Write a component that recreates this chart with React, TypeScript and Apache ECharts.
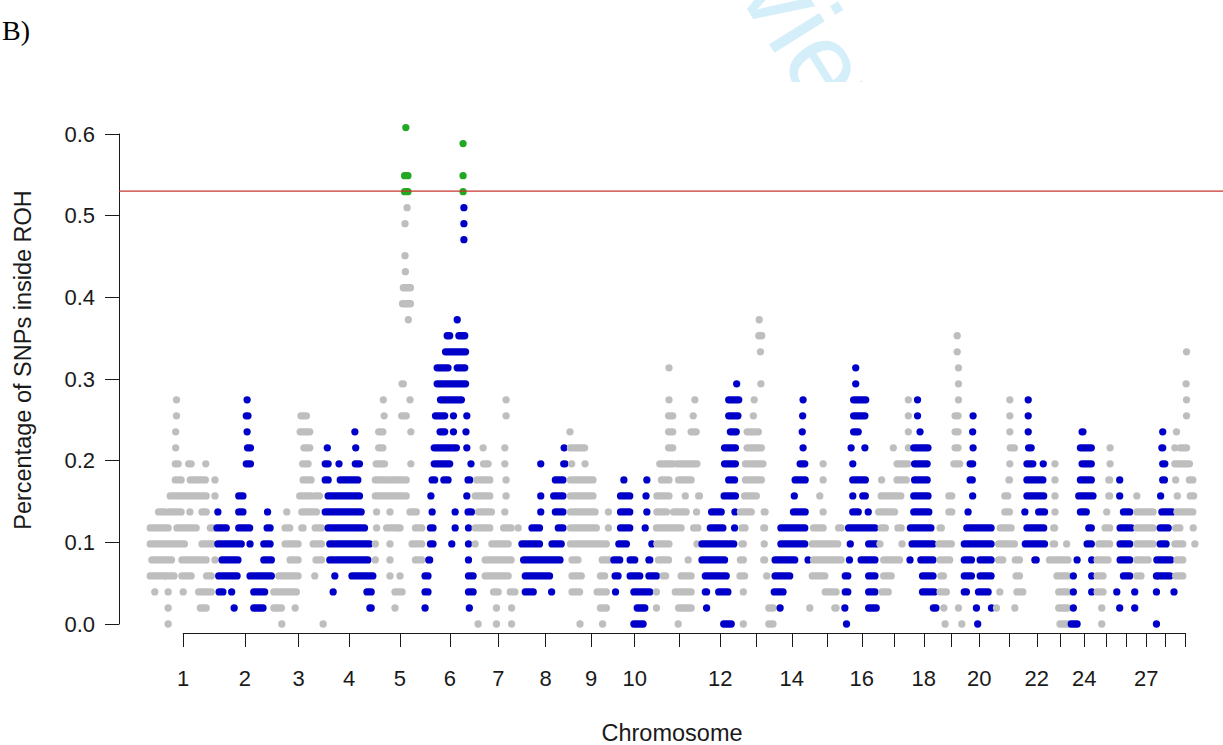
import React, { useEffect, useRef } from "react";
import * as echarts from "echarts";

// One run of adjacent SNPs sharing the same ROH count:
// [animals with the SNP inside a ROH, first SNP (Mb), last SNP (Mb)]
type Run = [number, number, number];

const SAMPLE_SIZE = 51;
const THRESHOLD = 0.53;
const HIGHLIGHT_MIN = 27; // counts at or above this are shown in green

const CHR_LENGTHS_MB = [
  158, 137, 121, 121, 121, 119, 113, 113, 105, 104, 107, 91, 84, 84, 85, 81, 75, 66, 64, 72,
  71, 61, 52, 62, 43, 52, 45, 46, 51,
];
const LABELLED_CHR = [1, 2, 3, 4, 5, 6, 7, 8, 9, 10, 12, 14, 16, 18, 20, 22, 24, 27];

const chr1: Run[] = [
  [14, 63, 63], [13, 63, 63], [12, 61, 61], [11, 61, 61],
  [10, 60, 67], [10, 92, 98], [10, 133, 133],
  [9, 60, 74], [9, 96, 132], [9, 155, 155],
  [8, 48, 134], [8, 155, 155],
  [7, 20, 35], [7, 44, 74], [7, 95, 95], [7, 124, 134],
  [6, 0, 43], [6, 64, 110], [6, 144, 150],
  [5, 0, 82], [5, 124, 150],
  [4, 4, 51], [4, 76, 134], [4, 155, 155],
  [3, 0, 35], [3, 38, 57], [3, 76, 98], [3, 135, 146],
  [2, 11, 11], [2, 43, 43], [2, 79, 79], [2, 116, 146],
  [1, 43, 43], [1, 120, 134],
  [0, 43, 43],
];
const chr2: Run[] = [
  [14, 74, 74], [13, 72, 76], [12, 74, 74], [11, 75, 82], [10, 72, 82],
  [8, 54, 64],
  [7, 4, 4], [7, 54, 64], [7, 123, 123],
  [6, 2, 24], [6, 54, 80], [6, 122, 129],
  [5, 4, 60], [5, 81, 81], [5, 114, 129],
  [4, 14, 52], [4, 114, 132],
  [3, 6, 50], [3, 81, 132],
  [2, 7, 16], [2, 37, 37], [2, 90, 116],
  [1, 43, 43], [1, 90, 112],
];
const chr3: Run[] = [
  [13, 66, 79], [12, 64, 87], [11, 73, 87], [10, 70, 83], [9, 71, 90],
  [8, 63, 90], [8, 100, 110],
  [7, 32, 32], [7, 68, 103],
  [6, 28, 39], [6, 68, 71], [6, 100, 115],
  [5, 28, 59], [5, 95, 115],
  [4, 40, 59], [4, 102, 115],
  [3, 13, 59], [3, 99, 99],
  [2, 1, 55],
  [1, 1, 19], [1, 52, 52],
  [0, 20, 20], [0, 119, 119],
];
const chr4: Run[] = [
  [12, 74, 74],
  [11, 8, 8], [11, 76, 76],
  [10, 3, 10], [10, 36, 36], [10, 75, 85],
  [9, 3, 10], [9, 39, 81],
  [8, 10, 85],
  [7, 3, 89],
  [6, 10, 97],
  [5, 14, 109],
  [4, 14, 105],
  [3, 26, 26], [3, 67, 117],
  [2, 22, 22], [2, 103, 113],
  [1, 110, 113],
];
const chr5: Run[] = [
  [31, 75, 75], [28, 72, 80], [27, 72, 80], [26, 78, 78], [25, 73, 73],
  [23, 73, 73], [22, 74, 74], [21, 69, 86], [20, 67, 86], [19, 81, 81],
  [15, 66, 69],
  [14, 21, 21], [14, 85, 85],
  [13, 23, 23], [13, 65, 76],
  [12, 10, 20], [12, 87, 87],
  [11, 10, 20],
  [10, 4, 24], [10, 87, 87],
  [9, 2, 30], [9, 38, 76],
  [8, 2, 76],
  [7, 5, 5], [7, 37, 37], [7, 85, 100],
  [6, 5, 5], [6, 29, 55], [6, 61, 61], [6, 98, 113],
  [5, 2, 2], [5, 37, 37], [5, 90, 113],
  [4, 2, 2], [4, 37, 37], [4, 98, 113],
  [3, 37, 37], [3, 61, 61],
  [2, 49, 66],
  [1, 49, 49],
];
const chr6: Run[] = [
  [30, 91, 91], [28, 91, 91], [27, 91, 91], [26, 93, 93], [25, 93, 93], [24, 93, 93],
  [19, 77, 77],
  [18, 53, 59], [18, 81, 95],
  [17, 49, 97],
  [16, 29, 55], [16, 77, 95],
  [15, 29, 97],
  [14, 37, 87],
  [13, 25, 47], [13, 68, 68], [13, 100, 100],
  [12, 36, 47], [12, 68, 68], [12, 98, 98],
  [11, 22, 75], [11, 100, 100],
  [10, 22, 59], [10, 110, 110],
  [9, 17, 23], [9, 45, 55], [9, 103, 107],
  [8, 14, 14], [8, 100, 100],
  [7, 17, 17], [7, 72, 72], [7, 103, 111],
  [6, 13, 19], [6, 72, 72], [6, 104, 104],
  [5, 13, 19], [5, 64, 64], [5, 104, 104],
  [4, 9, 11], [4, 104, 104],
  [3, 0, 7], [3, 104, 115],
  [2, 0, 7], [2, 104, 115],
  [1, 0, 0], [1, 106, 106],
];
const chr7: Run[] = [
  [14, 75, 75], [13, 75, 75],
  [11, 20, 20], [11, 72, 72],
  [10, 21, 32], [10, 72, 72],
  [9, 5, 36], [9, 75, 75],
  [8, 1, 36], [8, 75, 75],
  [7, 9, 40], [7, 72, 72],
  [6, 1, 36], [6, 69, 87], [6, 104, 104],
  [5, 1, 1], [5, 41, 80],
  [4, 25, 87],
  [3, 25, 80],
  [2, 45, 56], [2, 85, 96],
  [1, 52, 52], [1, 88, 88],
  [0, 8, 8], [0, 52, 52], [0, 88, 88],
];
const chr8: Run[] = [
  [11, 101, 101],
  [10, 45, 45], [10, 100, 103],
  [9, 80, 98],
  [8, 45, 45], [8, 76, 98],
  [7, 45, 45], [7, 80, 98],
  [6, 24, 42], [6, 87, 98],
  [5, 0, 42], [5, 72, 94],
  [4, 4, 91],
  [3, 8, 66],
  [2, 8, 27], [2, 71, 71],
];
const chr9: Run[] = [
  [12, 2, 2],
  [11, 3, 37],
  [10, 6, 6], [10, 38, 38],
  [9, 3, 57],
  [8, 3, 57],
  [7, 3, 62], [7, 94, 94],
  [6, 3, 65], [6, 94, 94],
  [5, 3, 89],
  [4, 7, 21], [4, 79, 97],
  [3, 7, 29], [3, 75, 85],
  [2, 7, 25], [2, 67, 89],
  [1, 75, 89],
  [0, 26, 26], [0, 80, 80],
];
const chr10: Run[] = [
  [9, 26, 26], [9, 81, 81],
  [8, 18, 40], [8, 79, 79],
  [7, 18, 40], [7, 81, 81],
  [6, 18, 40], [6, 77, 77],
  [5, 14, 32], [5, 93, 93],
  [4, 2, 16], [4, 41, 52], [4, 86, 88],
  [3, 5, 12], [3, 41, 64], [3, 86, 104],
  [2, 6, 6], [2, 50, 88],
  [1, 58, 76],
  [0, 50, 72],
];
const chr11: Run[] = [
  [16, 30, 30],
  [14, 30, 30], [14, 92, 92],
  [13, 29, 39], [13, 88, 88],
  [12, 29, 39], [12, 83, 95],
  [11, 29, 39],
  [10, 8, 40], [10, 50, 97],
  [9, 12, 30], [9, 53, 83],
  [8, 1, 30], [8, 69, 69], [8, 101, 103],
  [7, 1, 24], [7, 41, 71], [7, 96, 96],
  [6, 0, 59], [6, 89, 99],
  [5, 1, 30], [5, 97, 97],
  [4, 5, 29], [4, 76, 76],
  [3, 16, 22], [3, 59, 83],
  [2, 0, 0], [2, 45, 83],
  [1, 0, 0], [1, 53, 83],
  [0, 52, 52],
];
const chr12: Run[] = [
  [15, 85, 85],
  [14, 66, 90], [13, 66, 88], [12, 70, 84], [11, 56, 82], [10, 56, 82], [9, 66, 80], [8, 55, 82],
  [7, 25, 48], [7, 81, 81],
  [6, 22, 52], [6, 80, 80],
  [5, 2, 78],
  [4, 2, 56],
  [3, 10, 60],
  [2, 10, 13], [2, 42, 64],
  [1, 13, 13],
  [0, 54, 72],
];
const chr13: Run[] = [
  [19, 48, 48], [18, 47, 54], [17, 51, 51], [15, 52, 52], [14, 36, 36], [13, 34, 34],
  [12, 19, 46], [11, 19, 53], [10, 15, 57], [9, 15, 53], [8, 13, 41],
  [7, 3, 29], [7, 60, 62],
  [6, 7, 14], [6, 59, 61],
  [5, 7, 10], [5, 60, 60],
  [4, 3, 10], [4, 59, 61],
  [3, 2, 13], [3, 66, 66],
  [2, 10, 10],
  [1, 71, 81],
  [0, 10, 10], [0, 71, 81],
];
const chr14: Run[] = [
  [14, 69, 69], [13, 68, 68], [12, 67, 67], [11, 69, 69],
  [10, 62, 73], [9, 50, 74], [8, 48, 48], [7, 46, 74],
  [6, 16, 73], [5, 16, 73],
  [4, 2, 49], [4, 81, 81],
  [3, 2, 37],
  [2, 0, 21],
  [1, 14, 14],
];
const chr15: Run[] = [
  [10, 33, 33], [9, 33, 33], [8, 25, 25], [7, 33, 33],
  [6, 10, 33], [6, 70, 76],
  [5, 7, 68],
  [4, 10, 76],
  [3, 7, 37],
  [2, 38, 64],
  [1, 1, 1], [1, 61, 64],
];
const chr16: Run[] = [
  [16, 26, 26], [15, 26, 26], [14, 21, 50], [13, 21, 48], [12, 21, 32],
  [11, 15, 15], [11, 48, 48],
  [10, 19, 19],
  [9, 19, 49],
  [8, 19, 19], [8, 43, 49],
  [7, 19, 32], [7, 56, 56],
  [6, 9, 72],
  [5, 13, 13], [5, 57, 75],
  [4, 11, 11], [4, 39, 72],
  [3, 1, 7], [3, 57, 72],
  [2, 1, 7], [2, 57, 72],
  [1, 0, 0], [1, 57, 75],
  [0, 4, 4],
];
const chr17: Run[] = [
  [14, 71, 71], [13, 71, 71], [12, 71, 71],
  [11, 35, 35], [11, 71, 71],
  [10, 44, 70],
  [9, 7, 7], [9, 44, 66],
  [8, 6, 53],
  [7, 0, 38],
  [6, 6, 16], [6, 46, 54],
  [5, 3, 3], [5, 56, 56],
  [4, 12, 50],
  [3, 12, 30],
  [2, 8, 23],
];
const chr18: Run[] = [
  [14, 18, 18], [13, 18, 18], [12, 24, 24],
  [11, 9, 43], [10, 11, 41], [9, 11, 41], [8, 9, 43], [7, 9, 45],
  [6, 1, 50], [5, 5, 55],
  [4, 0, 0], [4, 26, 55],
  [3, 30, 55], [2, 30, 58],
  [1, 56, 62],
];
const chr19: Run[] = [
  [18, 47, 47], [17, 47, 47], [16, 50, 50], [15, 50, 50], [14, 50, 50],
  [13, 42, 49], [12, 42, 49], [11, 42, 49], [10, 39, 53],
  [8, 27, 34], [7, 27, 34],
  [6, 6, 9],
  [5, 3, 33],
  [4, 6, 29],
  [3, 8, 14],
  [2, 6, 21],
  [1, 15, 15], [1, 50, 50],
  [0, 18, 18], [0, 58, 58],
];
const chr20: Run[] = [
  [13, 21, 21], [12, 20, 20], [11, 21, 21], [10, 14, 20], [9, 14, 19], [8, 20, 20], [7, 9, 9],
  [6, 6, 64], [5, 0, 64],
  [4, 0, 17], [4, 38, 64],
  [3, 0, 17], [3, 38, 64],
  [2, 0, 5], [2, 34, 57],
  [1, 29, 29], [1, 65, 65],
  [0, 32, 32],
];
const chr21: Run[] = [
  [14, 37, 37], [13, 37, 37], [12, 37, 37], [11, 38, 48], [10, 37, 37], [9, 35, 36],
  [8, 25, 32], [7, 25, 36], [6, 14, 40], [5, 10, 48],
  [4, 10, 20], [4, 50, 60],
  [3, 52, 60],
  [2, 13, 13], [2, 54, 68],
  [1, 5, 5], [1, 49, 49],
];
const chr22: Run[] = [
  [14, 10, 10], [13, 10, 10], [12, 10, 10], [11, 11, 17],
  [10, 7, 21], [10, 46, 46],
  [9, 7, 45], [8, 7, 47],
  [7, 2, 2], [7, 35, 49],
  [6, 7, 47], [5, 3, 49],
  [4, 26, 29],
];
const chr23: Run[] = [
  [10, 13, 13], [9, 13, 13], [8, 13, 13], [7, 13, 13],
  [6, 10, 12],
  [5, 9, 12], [5, 41, 41],
  [4, 0, 44],
  [3, 18, 44],
  [2, 22, 44],
  [1, 22, 44],
  [0, 25, 45],
];
const chr24: Run[] = [
  [12, 26, 28], [11, 22, 48], [10, 26, 48], [9, 22, 48], [8, 18, 52], [7, 22, 36],
  [6, 42, 48], [5, 38, 48],
  [4, 14, 14], [4, 49, 49],
  [3, 5, 5], [3, 49, 49],
  [2, 5, 5], [2, 49, 49],
  [1, 5, 5],
  [0, 0, 14],
];
const chr25: Run[] = [
  [11, 31, 31], [10, 31, 31], [9, 28, 30], [8, 28, 30], [7, 23, 23],
  [6, 19, 30], [5, 4, 30], [4, 0, 26], [3, 0, 14], [2, 0, 14],
  [1, 11, 11], [0, 11, 11],
];
const chr26: Run[] = [
  [9, 11, 11], [8, 11, 11],
  [7, 20, 35], [6, 12, 39], [5, 12, 35], [4, 12, 35], [3, 20, 35],
  [2, 4, 4], [2, 47, 47],
  [1, 11, 11], [1, 47, 47],
];
const chr27: Run[] = [
  [8, 0, 0], [7, 0, 39], [6, 0, 39], [5, 0, 39], [4, 0, 27], [3, 0, 10],
];
const chr28: Run[] = [
  [12, 17, 17], [11, 15, 17], [10, 17, 22], [9, 17, 21], [8, 12, 12],
  [7, 15, 40], [6, 11, 30], [5, 11, 25], [4, 3, 36],
  [3, 2, 2], [3, 7, 34],
  [2, 2, 2], [2, 44, 44],
  [0, 2, 2],
];
const chr29: Run[] = [
  [17, 28, 28], [15, 27, 27], [14, 28, 28], [13, 28, 28],
  [12, 4, 4],
  [11, 0, 0], [11, 13, 28],
  [10, 0, 35],
  [9, 2, 2], [9, 35, 43],
  [8, 6, 6], [8, 37, 45],
  [7, 5, 43],
  [6, 2, 12], [6, 44, 44],
  [5, 0, 19], [5, 48, 48],
  [4, 5, 19],
  [3, 2, 19],
];

const CHROMOSOMES: Run[][] = [
  chr1, chr2, chr3, chr4, chr5, chr6, chr7, chr8, chr9, chr10, chr11, chr12, chr13, chr14, chr15,
  chr16, chr17, chr18, chr19, chr20, chr21, chr22, chr23, chr24, chr25, chr26, chr27, chr28, chr29,
];

const GREY = "#bebebe";
const BLUE = "#0000c8";
const GREEN = "#22a822";
const RED = "#c8372f";
const INK = "#1a1a1a";
const FONT = "'Liberation Sans', Arial, sans-serif";

// Page and plot geometry
const WIDTH = 1223;
const HEIGHT = 745;
const PLOT_LEFT = 119;
const Y_TOP = 134; // pixel row of y = 0.6
const Y_ZERO = 624; // pixel row of y = 0
const X_AXIS_ROW = 633;
const X_MIN = -74.7;
const X_MAX = 2568.3;
const DOT_R = 3.65;

export default function App() {
  const ref = useRef<HTMLDivElement>(null);

  useEffect(() => {
    if (!ref.current) return;
    const chart = echarts.init(ref.current, null, { renderer: "svg" });

    const starts: number[] = [];
    let acc = 0;
    CHR_LENGTHS_MB.forEach((len) => {
      starts.push(acc);
      acc += len;
    });
    const centers = CHR_LENGTHS_MB.map((len, i) => starts[i] + len / 2);
    const labelCenters = LABELLED_CHR.map((c) => centers[c - 1]);

    const runs: any[] = [];
    CHROMOSOMES.forEach((list, i) => {
      list.forEach(([n, s, e]) => {
        const color = n >= HIGHLIGHT_MIN ? GREEN : i % 2 === 0 ? GREY : BLUE;
        runs.push({
          value: [starts[i] + s, starts[i] + e, n / SAMPLE_SIZE],
          itemStyle: { color },
        });
      });
    });

    const pxPerMb = (WIDTH - PLOT_LEFT) / (X_MAX - X_MIN);
    const axisLeft = PLOT_LEFT + (centers[0] - X_MIN) * pxPerMb;
    const axisRight = (X_MAX - centers[centers.length - 1]) * pxPerMb;

    const option: any = {
      animation: false,
      backgroundColor: "#ffffff",
      textStyle: { fontFamily: FONT },
      grid: [
        { left: PLOT_LEFT, right: 0, top: Y_TOP, bottom: HEIGHT - Y_ZERO },
        { left: axisLeft, right: axisRight, top: X_AXIS_ROW - 20, bottom: HEIGHT - X_AXIS_ROW },
      ],
      xAxis: [
        { type: "value", gridIndex: 0, min: X_MIN, max: X_MAX, show: false },
        {
          type: "value",
          gridIndex: 1,
          min: centers[0],
          max: centers[centers.length - 1],
          position: "bottom",
          axisLine: { show: true, onZero: false, lineStyle: { color: INK, width: 1 } },
          axisTick: { show: true, length: 14, customValues: centers, lineStyle: { color: INK, width: 1 } },
          axisLabel: {
            customValues: labelCenters,
            margin: 34,
            fontSize: 22,
            color: INK,
            fontFamily: FONT,
            formatter: (v: number) => {
              const i = centers.findIndex((c) => Math.abs(c - v) < 0.01);
              return i >= 0 ? String(i + 1) : "";
            },
          },
          splitLine: { show: false },
        },
      ],
      yAxis: [
        {
          type: "value",
          gridIndex: 0,
          min: 0,
          max: 0.6,
          interval: 0.1,
          axisLine: { show: true, onZero: false, lineStyle: { color: INK, width: 1 } },
          axisTick: { show: true, length: 14, lineStyle: { color: INK, width: 1 } },
          axisLabel: {
            margin: 24,
            fontSize: 22,
            color: INK,
            fontFamily: FONT,
            formatter: (v: number) => v.toFixed(1),
          },
          splitLine: { show: false },
        },
        { type: "value", gridIndex: 1, show: false, min: 0, max: 1 },
      ],
      series: [
        {
          type: "custom",
          xAxisIndex: 0,
          yAxisIndex: 0,
          clip: false,
          encode: { x: [0, 1], y: 2 },
          data: runs,
          renderItem: (_params: any, api: any) => {
            const p0 = api.coord([api.value(0), api.value(2)]);
            const p1 = api.coord([api.value(1), api.value(2)]);
            return {
              type: "rect",
              shape: {
                x: p0[0] - DOT_R,
                y: p0[1] - DOT_R,
                width: p1[0] - p0[0] + 2 * DOT_R,
                height: 2 * DOT_R,
                r: DOT_R,
              },
              style: { fill: api.visual("color") },
            };
          },
          z: 4,
        },
        {
          type: "line",
          xAxisIndex: 0,
          yAxisIndex: 0,
          symbol: "none",
          silent: true,
          data: [
            [X_MIN, THRESHOLD],
            [X_MAX, THRESHOLD],
          ],
          lineStyle: { color: RED, width: 1.2 },
          z: 5,
        },
      ],
      graphic: [
        {
          // page watermark, partly hidden behind the figure
          type: "text",
          x: 887,
          y: 160,
          rotation: (-58 * Math.PI) / 180,
          silent: true,
          z: 0,
          style: {
            text: "For Peer Review",
            fill: "#d4eefa",
            font: "112px 'Liberation Sans', Arial, sans-serif",
            align: "right",
            verticalAlign: "middle",
          },
        },
        {
          // white figure background covering the lower part of the watermark
          type: "rect",
          silent: true,
          z: 1,
          shape: { x: 640, y: 82, width: 420, height: 104 },
          style: { fill: "#ffffff" },
        },
        {
          type: "text",
          x: 2,
          y: 30,
          z: 2,
          style: {
            text: "B)",
            fill: "#000",
            font: "28px 'Liberation Serif', 'Times New Roman', serif",
            verticalAlign: "middle",
          },
        },
        {
          type: "text",
          x: 23,
          y: 360,
          rotation: Math.PI / 2,
          z: 2,
          style: {
            text: "Percentage of SNPs inside ROH",
            fill: INK,
            font: `23.5px ${FONT}`,
            align: "center",
            verticalAlign: "middle",
          },
        },
        {
          type: "text",
          x: 672,
          y: 733,
          z: 2,
          style: {
            text: "Chromosome",
            fill: INK,
            font: `23.5px ${FONT}`,
            align: "center",
            verticalAlign: "middle",
          },
        },
      ],
    };

    chart.setOption(option);
    return () => chart.dispose();
  }, []);

  return (
    <div
      ref={ref}
      style={{ position: "absolute", left: 0, top: 0, width: WIDTH, height: HEIGHT }}
    />
  );
}
